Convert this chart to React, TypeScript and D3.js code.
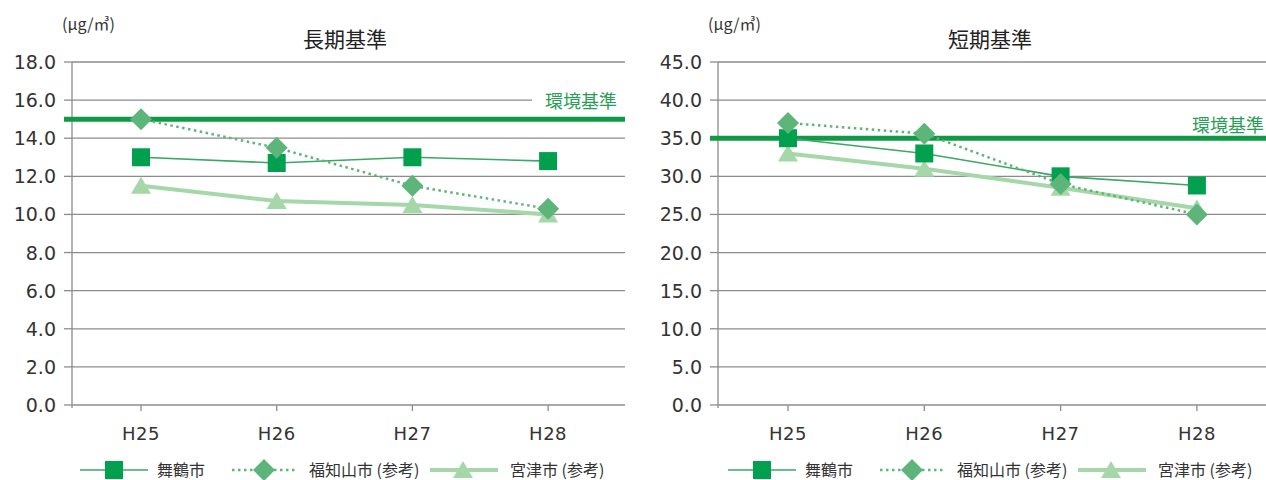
import React from "react";
import * as d3 from "d3";

const categories = ["H25", "H26", "H27", "H28"];
const longMaizuru = [13.0, 12.7, 13.0, 12.8];
const longFukuchiyama = [15.0, 13.5, 11.5, 10.3];
const longMiyazu = [11.5, 10.7, 10.5, 10.0];
const shortMaizuru = [35.0, 33.0, 30.0, 28.8];
const shortFukuchiyama = [37.0, 35.6, 29.0, 25.0];
const shortMiyazu = [33.0, 31.0, 28.5, 25.8];
const longTicks = [0, 2, 4, 6, 8, 10, 12, 14, 16, 18];
const shortTicks = [0, 5, 10, 15, 20, 25, 30, 35, 40, 45];
const longStandard = 15;
const shortStandard = 35;
const seriesNames = ["舞鶴市", "福知山市 (参考)", "宮津市 (参考)"];

const C_SQ = "#00a04f";
const C_SQ_LINE = "#3aa866";
const C_DIA = "#5db579";
const C_TRI = "#a6d7a8";
const C_STD = "#109a46";
const C_STD_TEXT = "#2a9d57";
const GRID = "#8c8c8c";
const FONT = "'Noto Sans CJK JP', 'Noto Sans', sans-serif";
const NUMFONT = "'DejaVu Sans', sans-serif";

type PanelProps = {
  x0: number;
  axisX: number;
  gridRight: number;
  title: string;
  titleX: number;
  ticks: number[];
  max: number;
  standard: number;
  stdLabelX: number;
  stdLabelY: number;
  gridGapStart?: number;
  series: number[][];
  firstX: number;
  step: number;
};

function Square({ x, y }: { x: number; y: number }) {
  return <rect x={x - 9} y={y - 9} width={18} height={18} fill={C_SQ} />;
}
function Diamond({ x, y }: { x: number; y: number }) {
  const r = 11;
  return <path d={`M${x},${y - r}L${x + r},${y}L${x},${y + r}L${x - r},${y}Z`} fill={C_DIA} />;
}
function Triangle({ x, y }: { x: number; y: number }) {
  return <path d={`M${x},${y - 9}L${x + 10},${y + 8}L${x - 10},${y + 8}Z`} fill={C_TRI} />;
}

function Panel(p: PanelProps) {
  const top = 62;
  const bottom = 405;
  const y = d3.scaleLinear().domain([0, p.max]).range([bottom, top]);
  const x = d3
    .scalePoint<string>()
    .domain(categories)
    .range([p.firstX, p.firstX + p.step * (categories.length - 1)]);
  const line = d3
    .line<number>()
    .x((_, i) => x(categories[i]) as number)
    .y((d) => y(d));
  const [sq, dia, tri] = p.series;
  return (
    <g>
      <text x={p.x0 - 10} y={30} fontSize={16} fill="#333" fontFamily={FONT}>
        (μg/㎥)
      </text>
      <text x={p.titleX} y={47} fontSize={21} fill="#222" textAnchor="middle" fontFamily={FONT}>
        {p.title}
      </text>
      {p.ticks.map((t) => {
        const yy = y(t);
        const isGap = p.gridGapStart !== undefined && t === 16;
        return (
          <g key={t}>
            {t > 0 && (
              <line
                x1={p.axisX}
                x2={isGap ? (p.gridGapStart as number) : p.gridRight}
                y1={yy}
                y2={yy}
                stroke={GRID}
                strokeWidth={1.3}
              />
            )}
            <line x1={p.axisX - 8} x2={p.axisX} y1={yy} y2={yy} stroke={GRID} strokeWidth={1.3} />
            <text
              x={p.axisX - 16}
              y={yy + 7}
              fontSize={19}
              textAnchor="end"
              fill="#333"
              fontFamily={NUMFONT}
            >
              {t.toFixed(1)}
            </text>
          </g>
        );
      })}
      <line x1={p.axisX} x2={p.axisX} y1={top} y2={bottom + 3} stroke={GRID} strokeWidth={1.3} />
      <line x1={p.axisX} x2={p.gridRight} y1={bottom} y2={bottom} stroke={GRID} strokeWidth={1.5} />
      {categories.map((c) => (
        <g key={c}>
          <line x1={x(c)} x2={x(c)} y1={bottom} y2={bottom + 6} stroke={GRID} strokeWidth={1.3} />
          <text
            x={x(c)}
            y={bottom + 35}
            fontSize={18}
            textAnchor="middle"
            fill="#333"
            fontFamily={NUMFONT}
            letterSpacing={0.5}
          >
            {c}
          </text>
        </g>
      ))}
      <line
        x1={p.axisX - 8}
        x2={p.gridRight}
        y1={y(p.standard)}
        y2={y(p.standard)}
        stroke={C_STD}
        strokeWidth={5}
      />
      <text x={p.stdLabelX} y={p.stdLabelY} fontSize={18} fill={C_STD_TEXT} fontFamily={FONT}>
        環境基準
      </text>
      <path d={line(tri) || ""} fill="none" stroke={C_TRI} strokeWidth={4} />
      <path d={line(sq) || ""} fill="none" stroke={C_SQ_LINE} strokeWidth={1.6} />
      <path
        d={line(dia) || ""}
        fill="none"
        stroke={C_DIA}
        strokeWidth={2.5}
        strokeDasharray="2.5 3.5"
      />
      {tri.map((d, i) => (
        <Triangle key={"t" + i} x={x(categories[i]) as number} y={y(d)} />
      ))}
      {sq.map((d, i) => (
        <Square key={"s" + i} x={x(categories[i]) as number} y={y(d)} />
      ))}
      {dia.map((d, i) => (
        <Diamond key={"d" + i} x={x(categories[i]) as number} y={y(d)} />
      ))}
    </g>
  );
}

function Legend({ x0 }: { x0: number }) {
  const yy = 470;
  return (
    <g fontFamily={FONT} fontSize={16} fill="#333">
      <line x1={x0} x2={x0 + 68} y1={yy} y2={yy} stroke={C_SQ_LINE} strokeWidth={1.6} />
      <Square x={x0 + 34} y={yy} />
      <text x={x0 + 77} y={yy + 6}>{seriesNames[0]}</text>
      <line
        x1={x0 + 152}
        x2={x0 + 218}
        y1={yy}
        y2={yy}
        stroke={C_DIA}
        strokeWidth={2.5}
        strokeDasharray="2.5 3.5"
      />
      <Diamond x={x0 + 184} y={yy} />
      <text x={x0 + 229} y={yy + 6}>{seriesNames[1]}</text>
      <line x1={x0 + 350} x2={x0 + 418} y1={yy} y2={yy} stroke={C_TRI} strokeWidth={4} />
      <Triangle x={x0 + 383} y={yy} />
      <text x={x0 + 430} y={yy + 6}>{seriesNames[2]}</text>
    </g>
  );
}

export default function App() {
  return (
    <svg
      width={1266}
      height={480}
      style={{ position: "absolute", left: 0, top: 0, background: "#fff" }}
    >
      <Panel
        x0={72}
        axisX={72}
        gridRight={625}
        title="長期基準"
        titleX={345}
        ticks={longTicks}
        max={18}
        standard={longStandard}
        stdLabelX={545}
        stdLabelY={108}
        gridGapStart={532}
        series={[longMaizuru, longFukuchiyama, longMiyazu]}
        firstX={141}
        step={135.7}
      />
      <Panel
        x0={718}
        axisX={718}
        gridRight={1266}
        title="短期基準"
        titleX={990}
        ticks={shortTicks}
        max={45}
        standard={shortStandard}
        stdLabelX={1192}
        stdLabelY={132}
        series={[shortMaizuru, shortFukuchiyama, shortMiyazu]}
        firstX={788}
        step={136.3}
      />
      <Legend x0={80} />
      <Legend x0={728} />
    </svg>
  );
}
